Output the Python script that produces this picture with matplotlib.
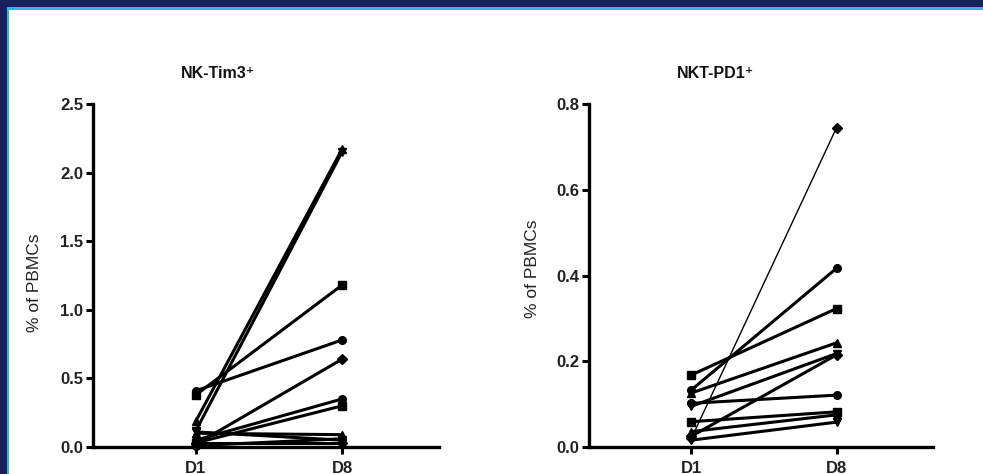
import matplotlib
matplotlib.use("Agg")
import matplotlib.pyplot as plt
from matplotlib.patches import Rectangle

# ---- data ----
timepoints = ["D1", "D8"]

nk_tim3_d1 = [0.41, 0.38, 0.19, 0.12, 0.02, 0.05, 0.03, 0.10, 0.11, 0.03, 0.01]
nk_tim3_d8 = [0.78, 1.18, 2.17, 2.15, 0.64, 0.35, 0.30, 0.09, 0.05, 0.03, 0.06]

nkt_pd1_d1 = [0.133, 0.168, 0.126, 0.095, 0.025, 0.102, 0.059, 0.036, 0.016, 0.020]
nkt_pd1_d8 = [0.417, 0.323, 0.243, 0.218, 0.215, 0.121, 0.082, 0.075, 0.058, 0.745]

titles = ["NK-Tim3\u207a", "NKT-PD1\u207a"]
ylabel = "% of PBMCs"
left_yticks = [0.0, 0.5, 1.0, 1.5, 2.0, 2.5]
right_yticks = [0.0, 0.2, 0.4, 0.6, 0.8]

markers = ["o", "s", "^", "v", "D", "o", "s", "^", "v", "D", "o"]

plt.rcParams["font.family"] = ["Liberation Sans", "DejaVu Sans"]

W, H = 983, 474
fig = plt.figure(figsize=(W / 100, H / 100), dpi=100)
fig.patch.set_facecolor("#1b1f5e")

# white panel with cyan edge
fig.add_artist(Rectangle((7 / W, 0), 1, 1 - 7 / H, transform=fig.transFigure,
                         facecolor="#29b6e8", edgecolor="none", zorder=0))
fig.add_artist(Rectangle((9 / W, 0), 1, 1 - 10 / H, transform=fig.transFigure,
                         facecolor="white", edgecolor="none", zorder=0))


def px_axes(x0, x1, y_top, y_bot):
    return fig.add_axes([x0 / W, 1 - y_bot / H, (x1 - x0) / W, (y_bot - y_top) / H])


ax1 = px_axes(93, 439, 104, 447)
ax2 = px_axes(589, 933, 104, 447)

panels = [
    (ax1, nk_tim3_d1, nk_tim3_d8, left_yticks, 2.5),
    (ax2, nkt_pd1_d1, nkt_pd1_d8, right_yticks, 0.8),
]

for i, (ax, d1, d8, yt, ymax) in enumerate(panels):
    ax.set_facecolor("none")
    for j, (a, b) in enumerate(zip(d1, d8)):
        lw = 1.0 if (i == 1 and b > 0.7) else 2.2
        ax.plot([0, 1], [a, b], color="black", lw=lw, marker=markers[j % len(markers)],
                ms=5.5, mfc="black", mec="black", clip_on=False, zorder=3)
    ax.set_xlim(-0.705, 1.664)
    ax.set_ylim(0, ymax)
    ax.set_xticks([0, 1])
    ax.set_xticklabels(timepoints)
    ax.set_yticks(yt)
    ax.set_yticklabels([f"{v:.1f}" for v in yt])
    for s in ["top", "right"]:
        ax.spines[s].set_visible(False)
    for s in ["left", "bottom"]:
        ax.spines[s].set_linewidth(2.4)
    ax.tick_params(axis="both", direction="out", length=5, width=2.2, labelsize=12)
    ax.tick_params(axis="x", pad=5)
    ax.tick_params(axis="y", pad=2)
    for lab in ax.get_xticklabels() + ax.get_yticklabels():
        lab.set_fontweight("bold")
        lab.set_color("#222222")
    ax.set_ylabel(ylabel, fontsize=12.5, color="#222222")

ax1.yaxis.set_label_coords(-0.147, 0.48)
ax2.yaxis.set_label_coords(-0.142, 0.52)

fig.text(218 / W, 1 - 73 / H, titles[0], ha="center", va="center", fontsize=11.5,
         fontweight="bold", color="#111111")
fig.text(716 / W, 1 - 73 / H, titles[1], ha="center", va="center", fontsize=11.5,
         fontweight="bold", color="#111111")

fig.savefig("out.png", dpi=100, facecolor=fig.get_facecolor())
